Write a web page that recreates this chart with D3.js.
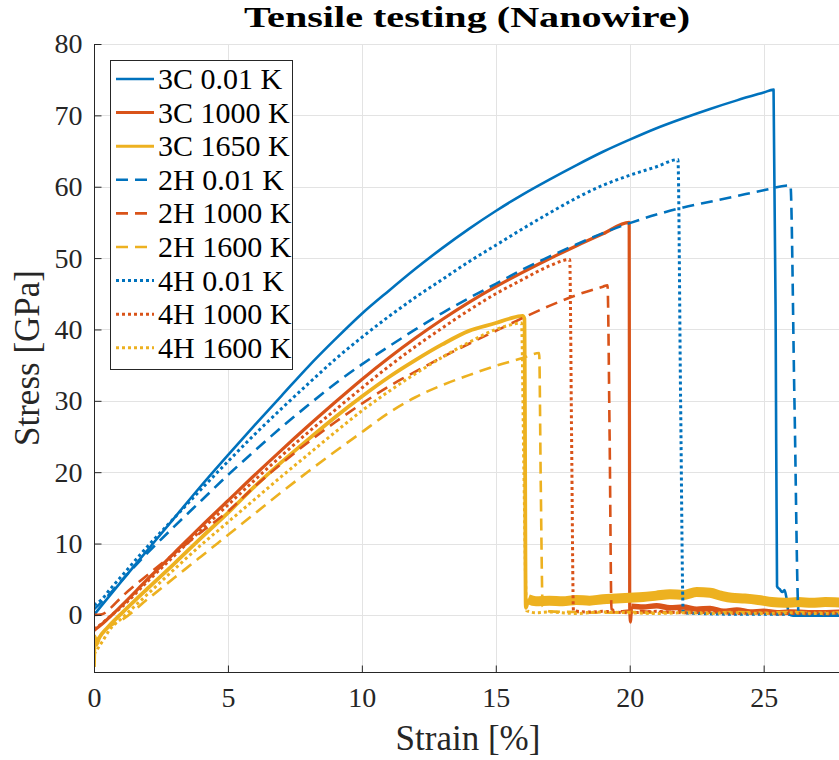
<!DOCTYPE html>
<html><head><meta charset="utf-8">
<script src="https://cdn.jsdelivr.net/npm/d3@7"></script>
<style>body{margin:0;background:#fff}svg{display:block}</style>
</head><body>
<svg id="c" width="839" height="760"></svg>
<script>
// ---- data ----
const xTicks = [0,5,10,15,20,25];
const yTicks = [0,10,20,30,40,50,60,70,80];
const xDomain = [0,28];
const yDomain = [-8,80];
const legendLabels = ["3C 0.01 K","3C 1000 K","3C 1650 K","2H 0.01 K","2H 1000 K","2H 1600 K","4H 0.01 K","4H 1000 K","4H 1600 K"];

const s3C_001 = [[0,0],[1,4.6],[2,9.1],[3,13.6],[4,18.1],[5,22.4],[6,26.6],[7,30.7],[8,34.8],[9,38.6],[10,42.2],[11,45.4],[12,48.5],[13,51.4],[14,54.1],[15,56.6],[16,58.9],[17,61.0],[18,63.0],[19,64.9],[20,66.6],[21,68.2],[22,69.6],[23,70.9],[24,72.1],[25,73.2],[25.37,73.6],[25.45,40],[25.5,4.0],[25.6,3.6],[25.7,3.2],[25.78,3.5],[25.86,2.2],[25.94,0.1],[26.1,-0.1],[28,-0.1]];
const s3C_1000 = [[0,-2.2],[0.2,-1.6],[0.5,-0.6],[1,1.2],[2,5.0],[3,8.7],[4,12.4],[5,16.0],[6,19.6],[7,23.1],[8,26.5],[9,29.8],[10,33.0],[11,36.0],[12,38.8],[13,41.4],[14,43.8],[15,46.0],[16,48.0],[17,49.9],[18,51.7],[19,53.4],[19.98,55.0],[20.0,1.0],[20.03,-1.0],[20.06,1.2]];
const t3C_1000 = [[20.06,1.2],[20.5,1.1],[21,1.3],[21.5,1.0],[22,1.1],[22.5,0.8],[23,0.9],[23.5,0.5],[24,0.7],[24.5,0.4],[25,0.5],[25.5,0.3],[26,0.4],[27,0.3],[28,0.4]];
const s3C_1650 = [[0,-7.3],[0.03,-3.0],[0.08,-4.2],[0.2,-3.2],[0.5,-1.8],[1,0.1],[2,3.7],[3,7.2],[4,10.8],[5,14.3],[6,18.0],[7,21.4],[8,24.6],[9,27.7],[10,30.6],[11,33.3],[12,35.7],[13,37.9],[14,39.8],[15,40.9],[15.5,41.5],[16,41.9],[16.07,41.5],[16.12,1.0],[16.2,2.2]];
const t3C_1650 = [[16.2,2.2],[16.5,1.9],[17,2.0],[17.5,1.9],[18,2.1],[18.5,2.0],[19,2.2],[19.5,2.3],[20,2.4],[20.5,2.5],[21,2.7],[21.5,2.9],[22,2.8],[22.5,3.2],[23,3.1],[23.4,2.7],[23.8,2.4],[24.3,2.3],[24.8,2.1],[25.3,1.8],[25.8,1.7],[26.3,1.8],[26.8,1.7],[27.3,1.8],[28,1.7]];
const s2H_001 = [[0,0.8],[0.5,2.6],[1,4.7],[2,8.7],[3,12.4],[4,16.0],[5,19.6],[6,23.0],[7,26.3],[8,29.4],[9,32.4],[10,35.1],[11,37.6],[12,40.0],[13,42.3],[14,44.4],[15,46.4],[16,48.4],[17,50.2],[18,51.9],[19,53.5],[20,54.9],[21,56.1],[22,57.1],[23,57.9],[24,58.7],[25,59.5],[26.0,60.2],[26.15,30],[26.3,0.5],[26.4,-0.1],[28,-0.1]];
const s2H_1000 = [[0,0],[0.3,0.1],[0.6,0.9],[1,2.4],[2,5.6],[3,8.6],[4,11.6],[5,14.5],[6,18.0],[7,21.2],[8,24.2],[9,27.0],[10,29.6],[11,32.0],[12,34.1],[13,36.1],[14,38.0],[15,39.8],[16,41.6],[17,43.3],[18,44.8],[19,46.0],[19.17,46.2],[19.25,25],[19.32,0.8],[19.6,0.5],[20,0.6],[21,0.4],[22,0.5],[23,0.3],[24,0.4],[25,0.3],[26,0.4],[27,0.3],[28,0.4]];
const s2H_1600 = [[0,-4.0],[0.3,-2.6],[0.6,-1.6],[1,-0.8],[2,2.2],[3,5.2],[4,8.2],[5,11.2],[6,14.2],[7,17.2],[8,20.1],[9,22.9],[10,25.6],[11,28.3],[12,30.5],[13,32.2],[14,33.6],[15,34.9],[16,36.0],[16.62,36.7],[16.68,18],[16.75,1.2],[17,0.5],[18,0.4],[19,0.3],[20,0.4],[21,0.3],[22,0.4],[23,0.3],[24,0.4],[25,0.3],[26,0.4],[27,0.3],[28,0.4]];
const s4H_001 = [[0,1.4],[0.3,2.2],[0.6,3.6],[1,5.3],[2,9.6],[3,13.6],[4,17.6],[5,21.5],[6,25.3],[7,28.9],[8,32.4],[9,35.8],[10,38.9],[11,41.8],[12,44.5],[13,47.0],[14,49.5],[15,51.8],[16,54.1],[17,56.3],[18,58.4],[19,60.2],[20,61.6],[21,62.8],[21.8,63.8],[21.9,30],[22.0,0.3],[22.5,0.2],[24,0.1],[26,0.1],[28,0.1]];
const s4H_1000 = [[0,-2.0],[0.3,-1.2],[0.6,-0.2],[1,1.0],[2,4.7],[3,8.3],[4,11.9],[5,15.4],[6,18.9],[7,22.3],[8,25.6],[9,28.7],[10,31.8],[11,34.8],[12,37.6],[13,40.2],[14,42.7],[15,45.0],[16,47.0],[17,48.9],[17.76,49.8],[17.83,25],[17.9,0.6],[18.5,0.4],[19,0.5],[20,0.3],[21,0.5],[22,0.3],[23,0.4],[24,0.2],[25,0.3],[26,0.2],[27,0.3],[28,0.2]];
const s4H_1600 = [[0,-5.5],[0.3,-3.8],[0.6,-2.0],[1,-0.6],[2,2.9],[3,6.4],[4,9.8],[5,13.0],[6,16.2],[7,19.4],[8,22.5],[9,25.6],[10,28.6],[11,31.3],[12,33.8],[13,36.1],[14,38.2],[15,40.0],[15.5,40.6],[15.96,40.9],[16.05,20],[16.15,0.6],[16.5,0.3],[17,0.4],[18,0.2],[19,0.4],[20,0.3],[21,0.2],[22,0.3],[23,0.2],[24,0.3],[25,0.2],[26,0.3],[27,0.2],[28,0.3]];

// ---- styles ----
const C = {b:"#0072BD", o:"#D95319", y:"#EDB120"};
const DASH = "12,7", DOT = "3,3";
const series = [
  {d:s3C_001, tail:null, c:C.b, dash:null, w:2.6, tw:0},
  {d:s3C_1000, tail:t3C_1000, c:C.o, dash:null, w:3.2, tw:5.5},
  {d:s3C_1650, tail:t3C_1650, c:C.y, dash:null, w:3.8, tw:10},
  {d:s2H_001, tail:null, c:C.b, dash:DASH, w:2.6, tw:0},
  {d:s2H_1000, tail:null, c:C.o, dash:DASH, w:2.6, tw:0},
  {d:s2H_1600, tail:null, c:C.y, dash:DASH, w:2.6, tw:0},
  {d:s4H_001, tail:null, c:C.b, dash:DOT, w:3, tw:0},
  {d:s4H_1000, tail:null, c:C.o, dash:DOT, w:3, tw:0},
  {d:s4H_1600, tail:null, c:C.y, dash:DOT, w:3, tw:0}
];

const svg = d3.select("#c");

// pick an installed Times-like serif font
function pickFont(){
  const t = svg.append("text").attr("x",-1000).attr("y",-1000).style("font-size","50px").text("Tensile testing 0.01 K");
  t.style("font-family","'DejaVu Serif'"); const w1 = t.node().getComputedTextLength();
  t.style("font-family","'DejaVu Sans'"); const w2 = t.node().getComputedTextLength();
  const cands = ["Liberation Serif","Times New Roman","Tinos","Nimbus Roman","Nimbus Roman No9 L","FreeSerif","Times"];
  let pick = "serif";
  for(const c of cands){
    t.style("font-family",`'${c}', monospace`);
    const w = t.node().getComputedTextLength();
    t.style("font-family",`'${c}', 'DejaVu Sans'`);
    const w3 = t.node().getComputedTextLength();
    if(Math.abs(w-w3)<0.5 && Math.abs(w-w1)>1 && Math.abs(w-w2)>1){ pick = `'${c}'`; break; }
  }
  t.remove();
  return pick + ", serif";
}
const FONT = pickFont();

const L=94, R=844, T=44, B=672;
const x = d3.scaleLinear().domain(xDomain).range([L,R]);
const y = d3.scaleLinear().domain(yDomain).range([B,T]);

svg.append("defs").append("clipPath").attr("id","clip")
  .append("rect").attr("x",L).attr("y",T).attr("width",R-L).attr("height",B-T);

// grid
const g = svg.append("g");
g.selectAll(".gx").data(xTicks.filter(v=>v>0)).join("line")
  .attr("x1",d=>Math.round(x(d))+0.5).attr("x2",d=>Math.round(x(d))+0.5)
  .attr("y1",T).attr("y2",B).attr("stroke","#e3e3e3").attr("stroke-width",1);
g.selectAll(".gy").data(yTicks).join("line")
  .attr("y1",d=>Math.round(y(d))+0.5).attr("y2",d=>Math.round(y(d))+0.5)
  .attr("x1",L).attr("x2",R).attr("stroke","#e3e3e3").attr("stroke-width",1);

// lines
const line = d3.line().x(d=>x(d[0])).y(d=>y(d[1])).curve(d3.curveMonotoneX);
const pl = svg.append("g").attr("clip-path","url(#clip)");
series.forEach(s=>{
  if(s.tail){
    pl.append("path").attr("d",line(s.tail)).attr("fill","none").attr("stroke",s.c)
      .attr("stroke-width",s.tw).attr("stroke-linejoin","round");
  }
  pl.append("path").attr("d",line(s.d)).attr("fill","none").attr("stroke",s.c)
    .attr("stroke-width",s.w).attr("stroke-dasharray",s.dash)
    .attr("stroke-linejoin","round");
});

// axes
const ax = d3.axisBottom(x).tickValues(xTicks).tickSizeInner(-7).tickSizeOuter(0).tickPadding(15).tickFormat(d3.format("d"));
const ay = d3.axisLeft(y).tickValues(yTicks).tickSizeInner(-7).tickSizeOuter(0).tickPadding(12).tickFormat(d3.format("d"));
const gx = svg.append("g").attr("transform",`translate(0,${B+0.5})`).call(ax);
const gy = svg.append("g").attr("transform",`translate(${L+0.5},0)`).call(ay);
[gx,gy].forEach(a=>{
  a.attr("font-family",null).attr("font-size",null);
  a.select(".domain").attr("stroke","#262626").attr("stroke-width",1);
  a.selectAll(".tick line").attr("stroke","#262626");
  a.selectAll(".tick text").style("font-family",FONT).style("font-size","28px").attr("fill","#262626");
});
gy.select(".domain").attr("d",`M0,${T}V${B}`);
gx.select(".domain").attr("d",`M${L},0H${R}`);

// labels
svg.append("text").attr("x",467).attr("y",27).attr("text-anchor","middle")
  .style("font-family",FONT).style("font-size","30px").style("font-weight","bold").attr("fill","#000")
  .attr("textLength",446).attr("lengthAdjust","spacingAndGlyphs")
  .text("Tensile testing (Nanowire)");
svg.append("text").attr("x",468).attr("y",750).attr("text-anchor","middle")
  .style("font-family",FONT).style("font-size","35px").attr("fill","#262626").text("Strain [%]");
svg.append("text").attr("transform",`translate(39,${(T+B)/2}) rotate(-90)`).attr("text-anchor","middle")
  .style("font-family",FONT).style("font-size","35px").attr("fill","#262626").text("Stress [GPa]");

// legend
const lg = svg.append("g");
lg.append("rect").attr("x",110.5).attr("y",60.5).attr("width",182).attr("height",309)
  .attr("fill","#fff").attr("stroke","#262626").attr("stroke-width",1);
series.forEach((s,i)=>{
  const cy = 79 + i*33.6;
  lg.append("line").attr("x1",116).attr("x2",154).attr("y1",cy).attr("y2",cy)
    .attr("stroke",s.c).attr("stroke-width",Math.min(s.w,3)).attr("stroke-dasharray",s.dash);
  lg.append("text").attr("x",158).attr("y",cy+10).style("font-family",FONT).style("font-size","30px").attr("fill","#000")
    .text(legendLabels[i]);
});
</script>
</body></html>
